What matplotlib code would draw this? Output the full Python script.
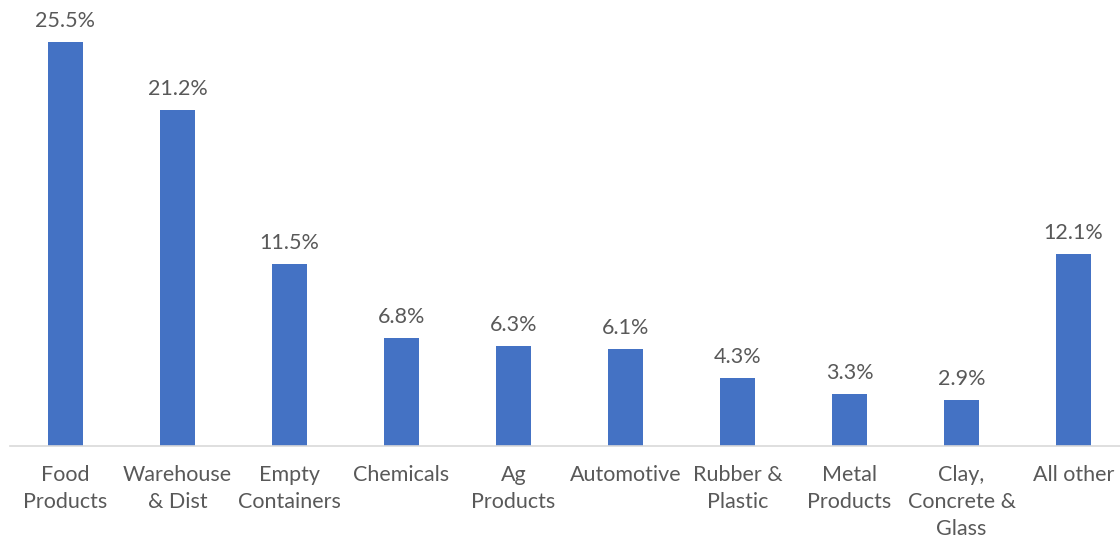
import matplotlib
matplotlib.use("Agg")
import matplotlib.pyplot as plt

categories = ["Food\nProducts", "Warehouse\n& Dist", "Empty\nContainers", "Chemicals",
              "Ag\nProducts", "Automotive", "Rubber &\nPlastic", "Metal\nProducts",
              "Clay,\nConcrete &\nGlass", "All other"]
values = [25.5, 21.2, 11.5, 6.8, 6.3, 6.1, 4.3, 3.3, 2.9, 12.1]

plt.rcParams['font.family'] = ['Lato', 'DejaVu Sans']

fig = plt.figure(figsize=(11.2, 5.39), dpi=100)
ax = fig.add_axes([9.5/1120, 93/539, 1120/1120, 446/539])
x = list(range(len(categories)))
bars = ax.bar(x, values, width=0.31, color="#4472C4")
ax.set_xlim(-0.5, 9.5)
ax.set_ylim(0, 446/15.84)
for xi, v in zip(x, values):
    ax.annotate(f"{v}%", (xi, v), xytext=(0, 8), textcoords="offset points",
                ha="center", va="bottom", fontsize=15.5, color="#595959")
ax.set_xticks(x)
ax.set_xticklabels(categories, fontsize=15.5, color="#595959", linespacing=1.42)
ax.tick_params(axis="x", length=0, pad=14)
ax.set_yticks([])
for s in ["top", "right", "left"]:
    ax.spines[s].set_visible(False)
ax.spines["bottom"].set_color("#D9D9D9")
ax.spines["bottom"].set_linewidth(1.2)
fig.savefig("out.png", dpi=100)
